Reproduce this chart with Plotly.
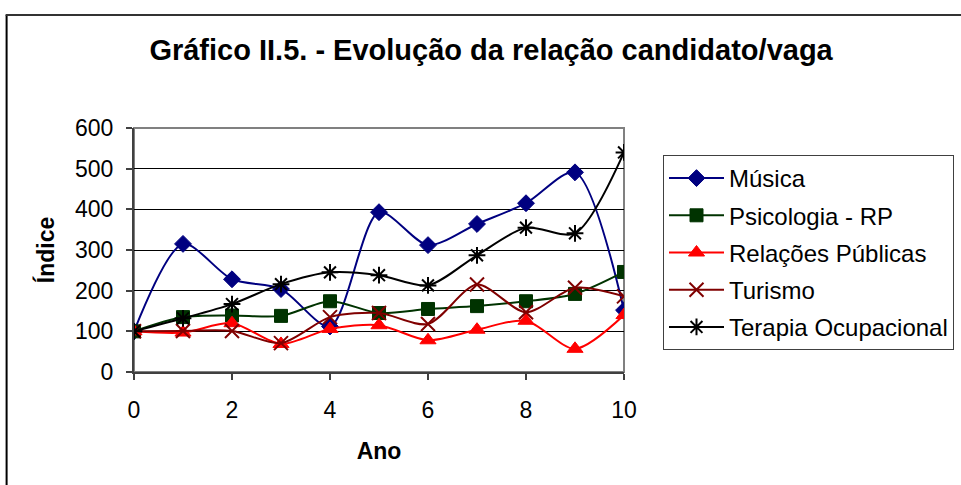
import plotly.graph_objects as go

anos = list(range(0, 11))
musica = [100, 315, 228, 204, 112, 393, 312, 364, 415, 491, 152]
psicologia = [100, 135, 139, 138, 174, 145, 155, 162, 174, 192, 246]
relacoes = [100, 97, 120, 69, 106, 115, 78, 104, 126, 57, 140]
turismo = [100, 101, 101, 71, 135, 145, 118, 215, 147, 207, 186]
terapia = [100, 132, 167, 216, 245, 238, 213, 287, 355, 341, 540]

series = [
    ("Música", musica, "#000080", "diamond", 13, 1),
    ("Psicologia - RP", psicologia, "#003300", "square", 13, 1),
    ("Relações Públicas", relacoes, "#FF0000", "triangle-up", 14, 1),
    ("Turismo", turismo, "#800000", "x-thin-open", 14, 2),
    ("Terapia Ocupacional", terapia, "#000000", "asterisk-open", 14, 2),
]

FONT = "Liberation Sans, Arial, sans-serif"

fig = go.Figure()
for i, (name, vals, color, sym, size, lw) in enumerate(series):
    fig.add_trace(go.Scatter(
        x=anos, y=vals, name=name, mode="lines+markers",
        line=dict(color=color, width=2, shape="spline", smoothing=0.8),
        marker=dict(symbol=sym, size=size, color=color, line=dict(color=color, width=lw)),
        legendgroup=f"g{i}",
    ))

# plot border and outer frame
fig.add_shape(type="rect", xref="paper", yref="paper", x0=0, x1=1, y0=0, y1=1,
              line=dict(color="#808080", width=2), layer="below")
fig.add_shape(type="line", xref="paper", yref="paper", x0=-0.260, x1=-0.260, y0=-0.6, y1=1.463,
              line=dict(color="#000000", width=2))
fig.add_shape(type="line", xref="paper", yref="paper", x0=-0.262, x1=1.8, y0=1.463, y1=1.463,
              line=dict(color="#333333", width=2))

fig.update_layout(
    width=961, height=485,
    margin=dict(l=134, r=337, t=128, b=113, autoexpand=False),
    paper_bgcolor="white", plot_bgcolor="white",
    font=dict(family=FONT, size=23, color="black"),
    title=dict(text="<b>Gráfico II.5. - Evolução da relação candidato/vaga</b>",
               x=0.511, xref="container", y=0.897, yref="container",
               xanchor="center", yanchor="middle",
               font=dict(family=FONT, size=29, color="black")),
    xaxis=dict(range=[0, 10], dtick=2, tick0=0, showgrid=False, zeroline=False,
               showline=True, linecolor="#404040", linewidth=2,
               ticks="outside", ticklen=6, tickcolor="#404040", tickwidth=2,
               ticklabelstandoff=10,
               title=dict(text="<b>Ano</b>", font=dict(size=23), standoff=21)),
    yaxis=dict(range=[0, 600], dtick=100, showgrid=True, gridcolor="#000000", gridwidth=1,
               zeroline=False, showline=True, linecolor="#404040", linewidth=2,
               ticks="outside", ticklen=6, tickcolor="#404040", tickwidth=2,
               ticklabelstandoff=8,
               title=dict(text="<b>Índice</b>", font=dict(size=23), standoff=14)),
    legend=dict(x=663 / 961, y=1 - 155 / 485, xref="container", yref="container",
                xanchor="left", yanchor="top",
                bordercolor="#404040", borderwidth=1, bgcolor="white",
                font=dict(size=24), traceorder="grouped", tracegroupgap=3,
                itemwidth=55),
    showlegend=True,
)

fig.write_html("out.html", config={"displayModeBar": False},
               post_script="document.body.style.margin='0';")
